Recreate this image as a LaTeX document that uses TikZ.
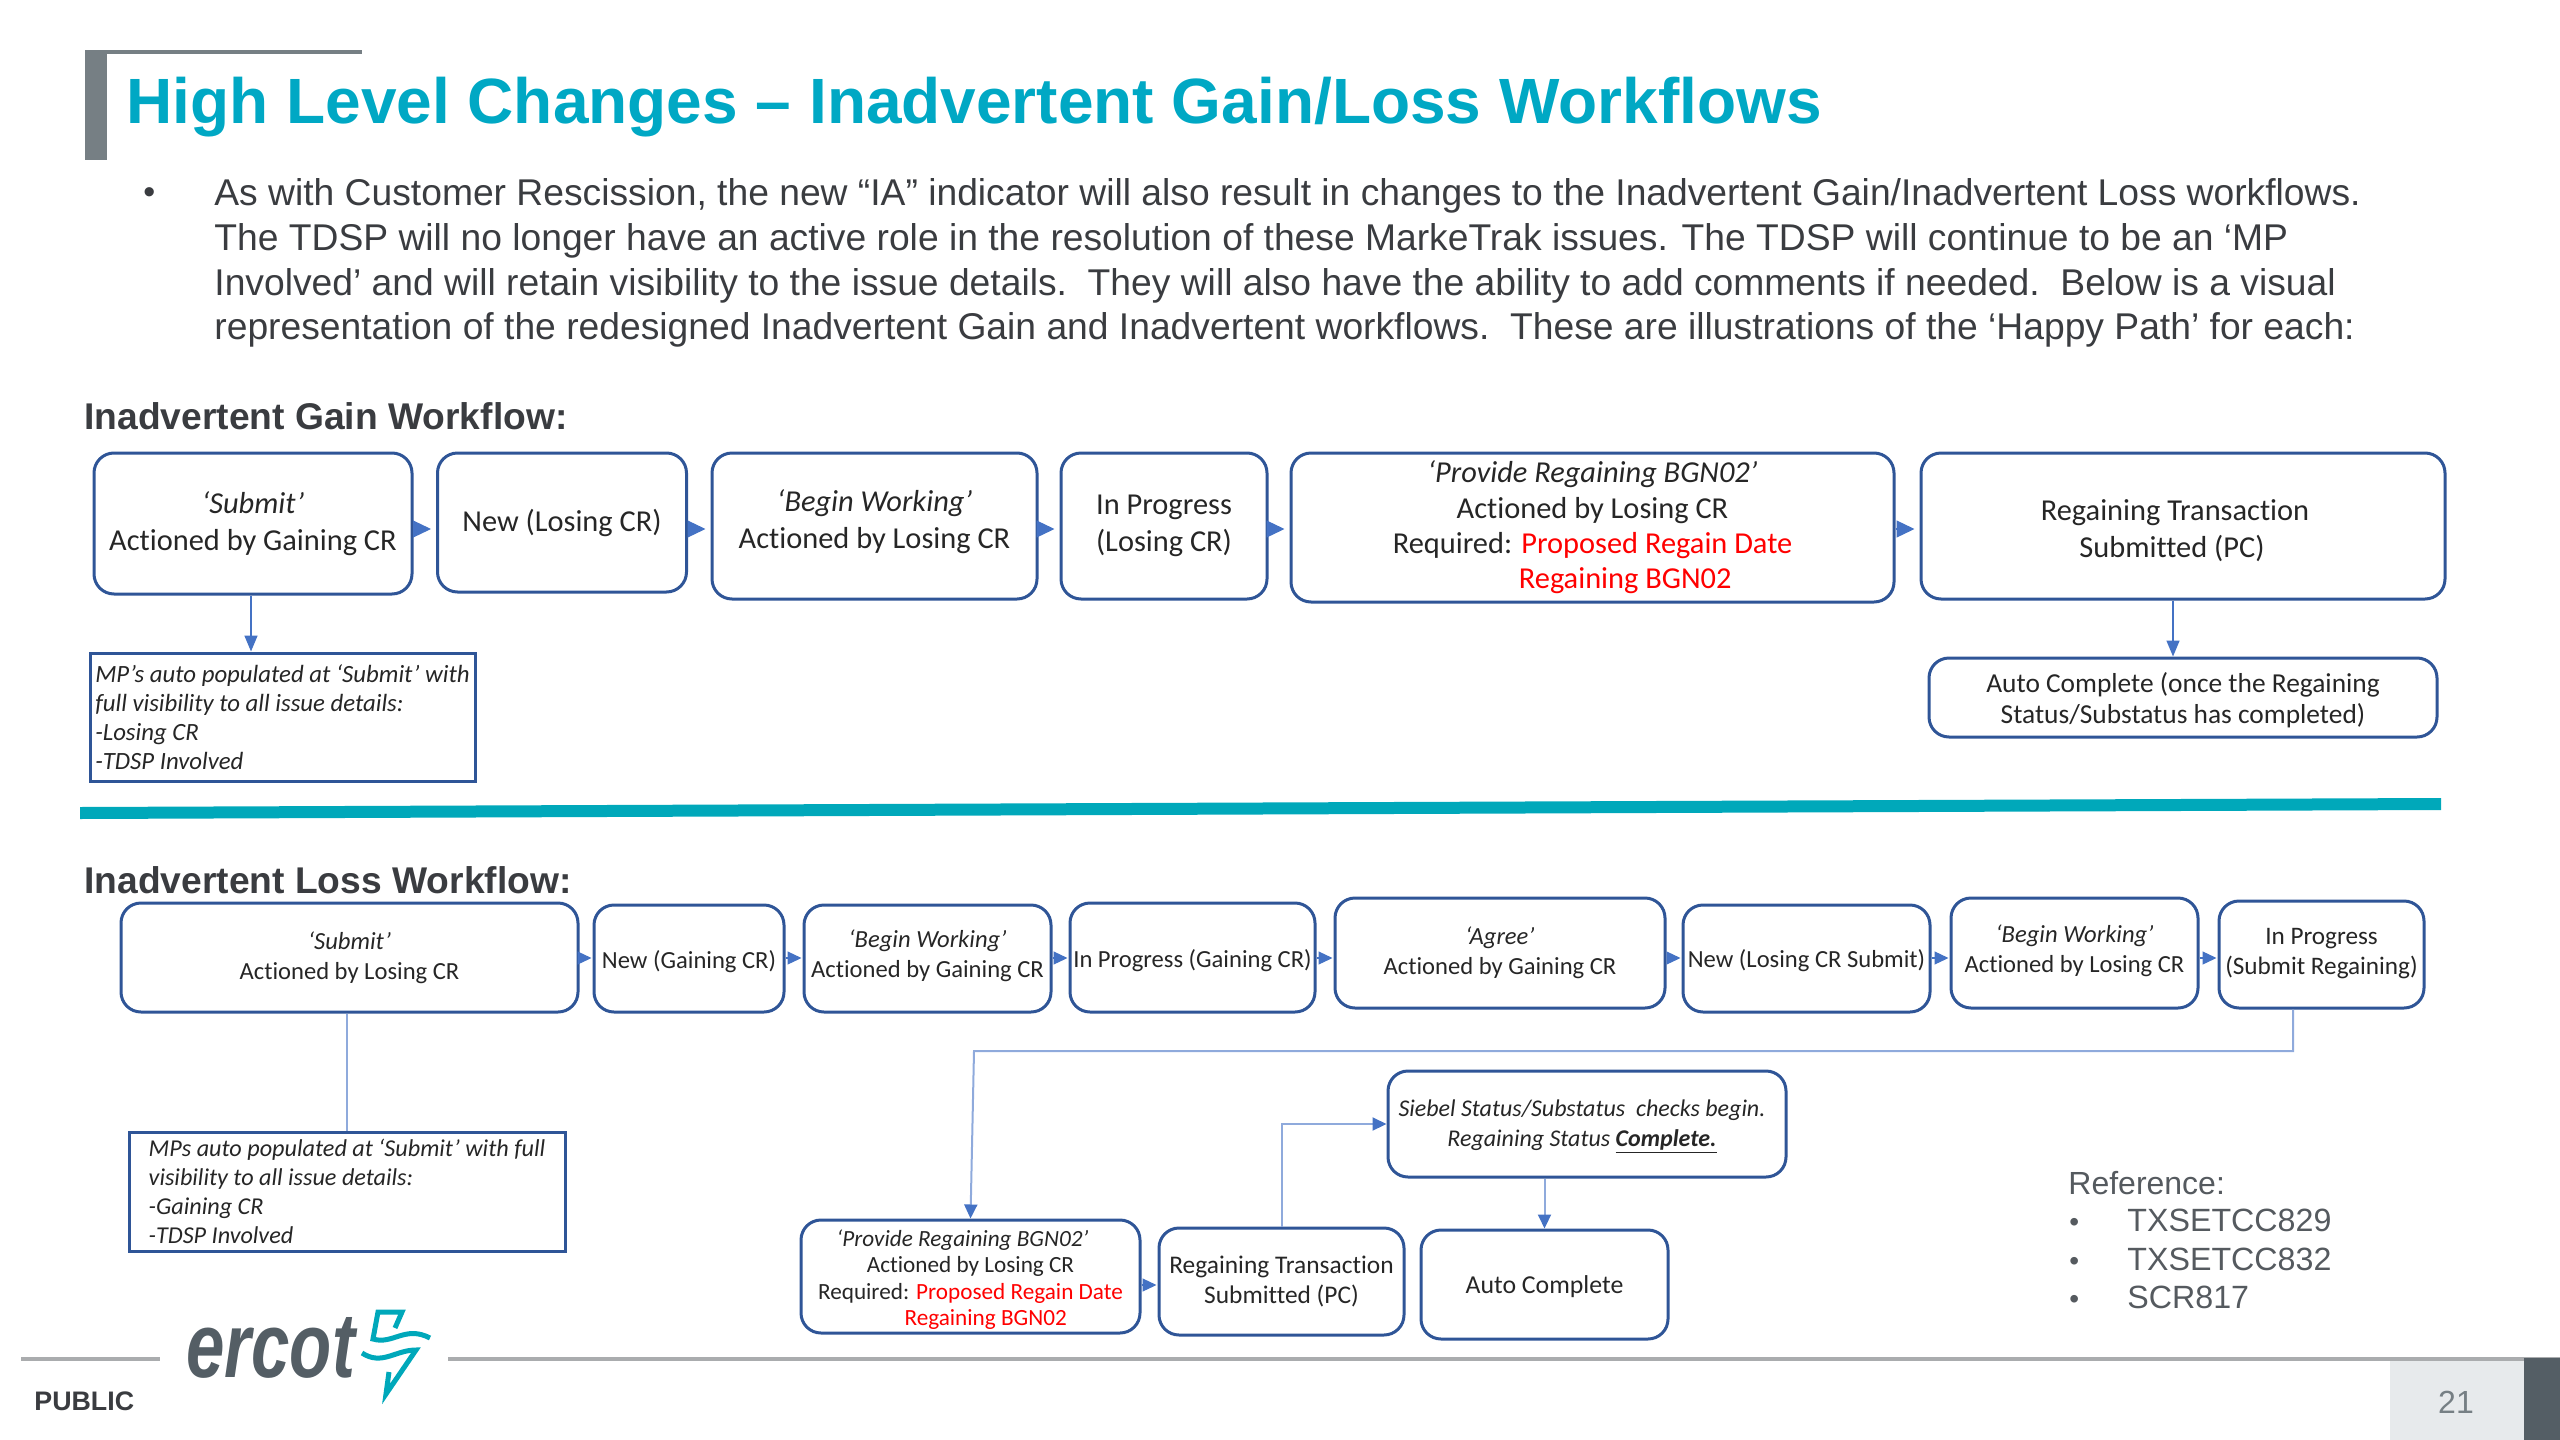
\documentclass[tikz,border=0pt]{standalone}
\usepackage{fontspec}
\setmainfont{Carlito}[Ligatures=NoCommon]
\newfontfamily\arialfont{Liberation Sans}
\usetikzlibrary{positioning, arrows.meta}
\definecolor{ink}{RGB}{38,38,38}
\definecolor{slate}{RGB}{58,60,64}
\definecolor{refgrey}{RGB}{85,90,95}
\definecolor{teal}{RGB}{0,168,196}
\definecolor{bandteal}{RGB}{0,168,186}
\definecolor{boxblue}{RGB}{47,85,151}
\definecolor{flowblue}{RGB}{68,114,196}
\definecolor{wireblue}{RGB}{143,170,220}
\definecolor{rulegrey}{RGB}{170,172,174}
\definecolor{bargrey}{RGB}{118,127,132}
\definecolor{pagegrey}{RGB}{231,234,236}
\definecolor{cornergrey}{RGB}{84,94,101}
\newcommand{\reqred}[1]{\textcolor{red}{#1}}
\newcommand{\dropline}[1]{\rule{0pt}{#1}}
\newcommand{\liftline}[1]{\rule[-#1]{0pt}{#1}}

\begin{document}
\begin{tikzpicture}[x=0.5pt, y=-0.5pt,
    wfbox/.style 2 args={rounded corners=10pt, draw=boxblue, line width=1.5pt, fill=white, text=ink,
                align=center, inner sep=0pt, minimum width=#1*0.5pt, minimum height=#2*0.5pt},
    notebox/.style 2 args={draw=boxblue, line width=1.5pt, fill=white, text=ink,
                align=left, inner sep=0pt, minimum width=#1*0.5pt, minimum height=#2*0.5pt},
    gaintext/.style={font=\fontsize{15.2}{18.5}\selectfont},
    gainnote/.style={font=\fontsize{12.4}{14.5}\selectfont\itshape},
    losstext/.style={font=\fontsize{12.3}{15}\selectfont},
    lossnote/.style={font=\fontsize{12.1}{14.4}\selectfont\itshape},
    flow/.style={draw=flowblue, line width=0.6pt, shorten >=2.5pt,
                -{Triangle[length=9pt, width=8.5pt]}},
    flowsm/.style={draw=flowblue, line width=0.6pt, shorten >=0.5pt,
                -{Triangle[length=7pt, width=6.5pt]}},
    flowdown/.style={draw=flowblue, line width=0.8pt, -{Triangle[length=8pt, width=6.5pt]}},
    wire/.style={draw=wireblue, line width=1pt},
    wirehead/.style={draw=wireblue, line width=1pt, -{Triangle[length=7pt, width=6.5pt, color=flowblue]}},
    slide/.style={font=\arialfont, text=slate, inner sep=0pt}
  ]
  \useasboundingbox (0,0) rectangle (2560,1440);

  % --- slide title ---
  \fill[bargrey] (85,50) rectangle (107,160);
  \fill[bargrey] (85,50) rectangle (362,54);
  \node[slide, anchor=base west, text=teal, font=\arialfont\bfseries\fontsize{32}{40}\selectfont]
       (title) at (126,123) {High Level Changes – Inadvertent Gain/Loss Workflows};

  % body text
  \node[slide, anchor=base west, font=\arialfont\fontsize{17}{22}\selectfont] (dot) at (143,203) {\textbullet};
  \node[slide, anchor=north west, align=left, font=\arialfont\fontsize{18.62}{22.35}\selectfont] (body) at (214,178.5)
       {As with Customer Rescission, the new “IA” indicator will also result in changes to the Inadvertent Gain/Inadvertent Loss workflows.\\
        The TDSP will no longer have an active role in the resolution of these MarkeTrak issues. The TDSP will continue to be an ‘MP\\
        Involved’ and will retain visibility to the issue details.\ \ They will also have the ability to add comments if needed.\ \ Below is a visual\\
        representation of the redesigned Inadvertent Gain and Inadvertent workflows.\ \ These are illustrations of the ‘Happy Path’ for each:};

  % --- gain workflow ---
  \node[slide, anchor=base west, font=\arialfont\bfseries\fontsize{18.6}{22}\selectfont] (gainhead) at (84,429) {Inadvertent Gain Workflow:};
  \node[wfbox={318}{141}, gaintext] (g1) at (253,523.5) {\textit{‘Submit’}\\Actioned by Gaining CR};
  \node[wfbox={249}{139}, gaintext] (g2) at (562,522.5) {New (Losing CR)};
  \node[wfbox={325}{146}, gaintext] (g3) at (874.5,526) {\textit{‘Begin Working’}\\Actioned by Losing CR\liftline{7pt}};
  \node[wfbox={206}{146}, gaintext] (g4) at (1164,526) {In Progress\\(Losing CR)};
  \node[wfbox={603}{149}, gaintext, font=\fontsize{15.2}{17.7}\selectfont] (g5) at (1592.5,527.5)
       {\textit{‘Provide Regaining BGN02’}\\Actioned by Losing CR\\Required: \reqred{Proposed Regain Date}\\\hspace*{2.15em}\reqred{Regaining BGN02}};
  \node[wfbox={524}{146}, gaintext] (g6) at (2183,526)
       {\dropline{15.5pt}Regaining Transaction\hspace*{8pt}\\Submitted (PC)\hspace*{11pt}};
  \node[wfbox={508}{79}, gaintext, font=\fontsize{13.7}{15.5}\selectfont] (g7) at (2183,697.5)
       {\dropline{13pt}Auto Complete (once the Regaining\\Status/Substatus has completed)};
  \node[notebox={385}{128}, gainnote] (gnote) at (282.5,717)
       {MP’s auto populated at ‘Submit’ with\\full visibility to all issue details:\\-Losing CR\\-TDSP Involved};
  \foreach \a/\b in {g1/g2, g2/g3, g3/g4, g4/g5, g5/g6} {
      \draw[flow] (\a.east |- 0,529) -- (\b.west |- 0,529);
  }
  \draw[flowdown] (g1.south -| 251,0) -- (gnote.north -| 251,0);
  \draw[flowdown] (g6.south -| 2173,0) -- (g7.north -| 2173,0);

  % band between the workflows
  \fill[bandteal] (80,807) -- (2441,798) -- (2441,810) -- (80,819) -- cycle;

  % --- loss workflow ---
  \node[slide, anchor=base west, font=\arialfont\bfseries\fontsize{18.6}{22}\selectfont] (losshead) at (84,893) {Inadvertent Loss Workflow:};
  \node[wfbox={457}{109}, losstext] (l1) at (349.5,957.5) {\textit{‘Submit’}\\Actioned by Losing CR};
  \node[wfbox={190}{107}, losstext] (l2) at (689,958.5) {\dropline{12.5pt}New (Gaining CR)};
  \node[wfbox={247}{107}, losstext] (l3) at (927.5,958.5) {\textit{‘Begin Working’}\\Actioned by Gaining CR\liftline{4.5pt}};
  \node[wfbox={245}{109}, losstext] (l4) at (1192.5,957.5) {\dropline{12.5pt}In Progress (Gaining CR)};
  \node[wfbox={330}{110}, losstext] (l5) at (1500,953) {\textit{‘Agree’}\\Actioned by Gaining CR};
  \node[wfbox={247}{107}, losstext] (l6) at (1806.5,958.5) {\dropline{11pt}New (Losing CR Submit)};
  \node[wfbox={247}{110}, losstext] (l7) at (2074.5,953) {\textit{‘Begin Working’}\\Actioned by Losing CR\liftline{4.5pt}};
  \node[wfbox={205}{107}, losstext, font=\fontsize{12.6}{15}\selectfont] (l8) at (2321.5,954.5) {In Progress\\(Submit Regaining)\liftline{3.5pt}};
  \node[notebox={436}{119}, lossnote] (lnote) at (347,1191.5)
       {MPs auto populated at ‘Submit’ with full\\visibility to all issue details:\\-Gaining CR\\-TDSP Involved};
  \node[wfbox={339}{113}, losstext, font=\fontsize{11.6}{13.3}\selectfont] (l9) at (970.5,1276.5)
       {\dropline{11.5pt}\textit{‘Provide Regaining BGN02’}\hspace*{8pt}\\Actioned by Losing CR\hspace*{8pt}\\Required: \reqred{Proposed Regain Date}\hspace*{8pt}\\\hspace*{2em}\reqred{Regaining BGN02}\hspace*{8pt}};
  \node[wfbox={245}{107}, losstext, font=\fontsize{12.7}{15}\selectfont] (l10) at (1281.5,1281.5) {Regaining Transaction\\Submitted (PC)};
  \node[wfbox={247}{109}, losstext, font=\fontsize{12.9}{15}\selectfont] (l11) at (1544.5,1284.5) {\dropline{11pt}Auto Complete};
  \node[wfbox={398}{106}, losstext, font=\fontsize{12}{15}\selectfont\itshape] (l12) at (1587,1124)
       {\dropline{11pt}Siebel Status/Substatus\ \ checks begin.\hspace*{5pt}\\Regaining Status \textbf{\underline{Complete.}}\hspace*{5pt}};
  \foreach \a/\b in {l1/l2, l2/l3, l3/l4, l4/l5, l5/l6, l6/l7, l7/l8} {
      \draw[flowsm] (\a.east |- 0,958) -- (\b.west |- 0,958);
  }
  \draw[flowsm] (l9.east |- 0,1285) -- (l10.west |- 0,1285);
  \draw[wire] (l1.south -| lnote.north) -- (lnote.north);
  \coordinate (turnl) at (974,1051);
  \draw[wirehead] (l8.south -| 2293,0) -- (2293,1051) -- (turnl) -- (l9.north);
  \draw[wirehead] (l10.north) |- (l12.west);
  \draw[wirehead] (l12.south -| l11.north) -- (l11.north);

  % reference list
  \node[slide, anchor=base west, text=refgrey, font=\arialfont\fontsize{16}{20}\selectfont] (refhead) at (2068,1194) {Reference:};
  \foreach \i/\lab/\yy in {1/TXSETCC829/1231, 2/TXSETCC832/1270, 3/SCR817/1308} {
      \node[slide, anchor=base west, text=refgrey, font=\arialfont\fontsize{14}{20}\selectfont] (dot\i) at (2069,\yy) {\textbullet};
      \node[slide, anchor=base west, text=refgrey, font=\arialfont\fontsize{16.1}{20}\selectfont] (ref\i) at (2127,\yy) {\lab};
  }

  % --- footer ---
  \fill[rulegrey] (21,1357) rectangle (160,1361);
  \fill[rulegrey] (448,1357) rectangle (2560,1361);
  \fill[pagegrey] (2390,1361) rectangle (2524,1440);
  \fill[cornergrey] (2524,1358) rectangle (2560,1440);
  \node[slide, text=bargrey, font=\arialfont\fontsize{16}{20}\selectfont] (pagenum) at (2456,1402) {21};
  \node[slide, anchor=base west, font=\arialfont\bfseries\fontsize{13.4}{16}\selectfont] (public) at (34,1410) {PUBLIC};
  \node[slide, anchor=base west, text=cornergrey, font=\arialfont\bfseries\itshape\fontsize{46}{50}\selectfont] (logo) at (186,1377)
       {\scalebox{.75}[1]{ercot}};
  % bolt of the logo
  \draw[bandteal, line width=2.5pt, line join=miter]
       (395,1328) -- (402,1312) -- (378,1312) -- (373,1339) .. controls (393,1345) and (405,1325) .. (430,1338);
  \draw[bandteal, line width=2.5pt, line join=miter]
       (362,1353) .. controls (382,1366) and (395,1350) .. (416,1350) -- (386,1394) -- (389,1372);
\end{tikzpicture}
\end{document}
